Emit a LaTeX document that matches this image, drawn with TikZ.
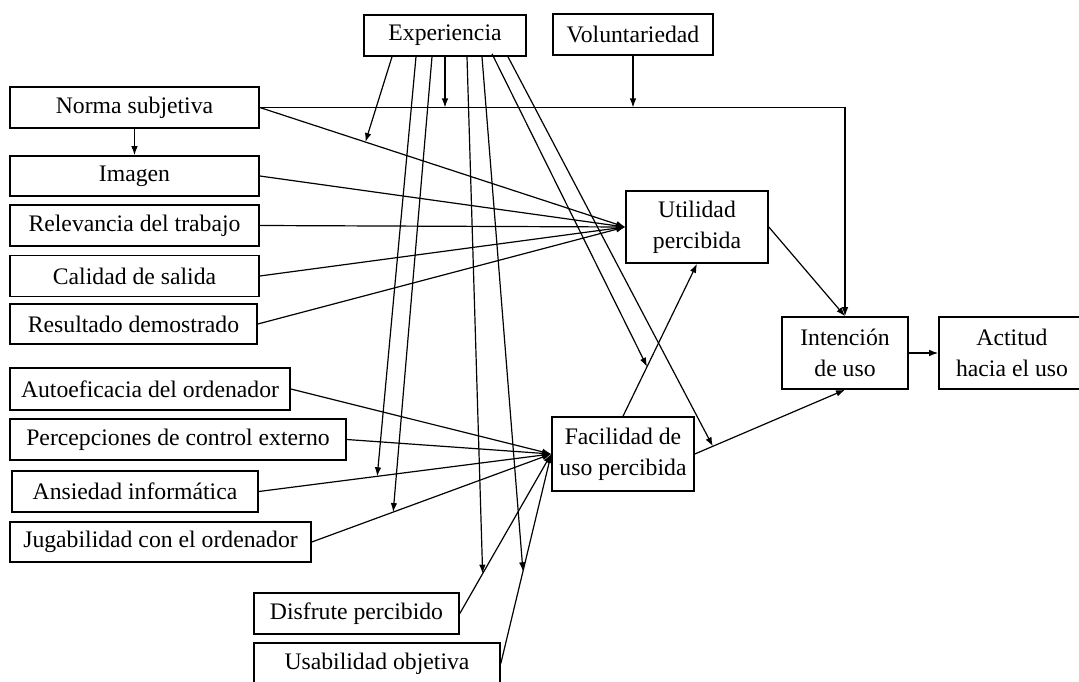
\documentclass[tikz,border=0pt]{standalone}
\usepackage{fontspec}
\setmainfont{Liberation Serif}
\usetikzlibrary{arrows.meta,calc}
\begin{document}
\begin{tikzpicture}[x=1pt,y=-1pt,
  box/.style={draw,line width=1.6pt,inner xsep=0pt,inner ysep=2pt,align=center,
    font=\fontsize{23.7}{31}\selectfont},
  arr/.style={line width=1.2pt,-{Latex[length=9pt,width=6.5pt]}},
  ln/.style={line width=1.2pt}]
\clip (0,0) rectangle (1079,682);
\fill[white] (0,0) rectangle (1079,682);

% top factors
\node[box,minimum width=162,minimum height=41] (exp) at (445,35.5) {Experiencia};
\node[box,minimum width=160,minimum height=41] (vol) at (633,34.5) {Voluntariedad};

% determinants of perceived usefulness
\node[box,minimum width=249,minimum height=41] (ns)  at (134.5,107.5) {Norma subjetiva};
\node[box,minimum width=249,minimum height=40] (img) at (134.5,176) {Imagen};
\node[box,minimum width=249,minimum height=41] (rel) at (134.5,225.5) {Relevancia del trabajo};
\node[box,minimum width=249,minimum height=41] (cal) at (134.5,276) {Calidad de salida};
\node[box,minimum width=247,minimum height=40] (res) at (133.5,324) {Resultado demostrado};

% determinants of perceived ease of use
\node[box,minimum width=280,minimum height=42] (aut) at (150,389) {Autoeficacia del ordenador};
\node[box,minimum width=336,minimum height=41] (per) at (178,439.5) {Percepciones de control externo};
\node[box,minimum width=246,minimum height=41] (ans) at (135,491.5) {Ansiedad informática};
\node[box,minimum width=301,minimum height=40] (jug) at (160.5,542) {Jugabilidad con el ordenador};
\node[box,minimum width=205,minimum height=41] (dis) at (356.5,613.5) {Disfrute percibido};
\node[box,minimum width=246,minimum height=41] (usa) at (377,663.5) {Usabilidad objetiva};

% core constructs
\node[box,minimum width=142,minimum height=72] (util) at (697,227) {Utilidad\\percibida};
\node[box,minimum width=142,minimum height=74] (fac)  at (623,454) {Facilidad de\\uso percibida};
\node[box,minimum width=126,minimum height=72] (int)  at (845,353) {Intención\\de uso};
\node[box,minimum width=146,minimum height=72] (act)  at (1012,353) {Actitud\\hacia el uso};

% subjective norm
\draw[arr] (ns.south) -- (img.north);
\draw[arr] (ns.east) -| (int.north);
\draw[arr] (vol.south) -- (vol.south |- ns.east);

% inputs to perceived usefulness
\foreach \s in {ns,img,rel,cal,res}
  \draw[arr] (\s.east) -- (util.west);

% inputs to perceived ease of use
\foreach \s in {aut,per,ans,jug,dis,usa}
  \draw[arr] (\s.east) -- (fac.west);

% core paths
\draw[arr] (fac.north) -- (util.south);
\draw[arr] (util.east) -- (int.north);
\draw[arr] (fac.east) -- (int.south);
\draw[arr] (int.east) -- (act.west);

% moderating effects of experience
\draw[arr] ([xshift=-53]exp.south) -- ($(ns.east)!0.289!(util.west)$);
\draw[arr] ([xshift=-29]exp.south) -- ($(ans.east)!0.405!(fac.west)$);
\draw[arr] ([xshift=-13]exp.south) -- ($(jug.east)!0.34!(fac.west)$);
\draw[arr] (exp.south) -- (exp.south |- ns.east);
\draw[arr] ([xshift=22]exp.south) -- ($(dis.east)!0.25!(fac.west)$);
\draw[arr] ([xshift=37]exp.south) -- ($(usa.east)!0.44!(fac.west)$);
\draw[arr] ([xshift=47,yshift=3]exp.south) -- ($(fac.north)!0.325!(util.south)$);
\draw[arr] ([xshift=63]exp.south) -- ($(fac.east)!0.12!(int.south)$);
\end{tikzpicture}
\end{document}
